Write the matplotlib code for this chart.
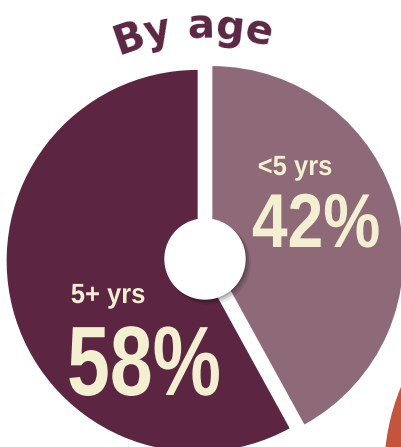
import matplotlib
matplotlib.use("Agg")
import numpy as np
import matplotlib.pyplot as plt
from matplotlib.patches import Circle
from matplotlib import patheffects as pe
from matplotlib.transforms import Affine2D

# =========================================================
# Data
# =========================================================

title = "By age"
groups = ["<5 yrs", "5+ yrs"]
shares = [42, 58]
colors = ["#8e6978", "#5c2643"]

cream = "#f3f0d2"
plum = "#5c2643"


class Squeeze(pe.AbstractPathEffect):
    """Narrow the glyphs around x0 (no condensed font installed)."""

    def __init__(self, x0, sx):
        super().__init__()
        self.x0 = x0
        self.sx = sx

    def draw_path(self, renderer, gc, tpath, affine, rgbFace=None):
        sq = Affine2D().translate(-self.x0, 0).scale(self.sx, 1).translate(self.x0, 0)
        renderer.draw_path(gc, tpath, affine + sq, rgbFace)


# =========================================================
# Figure (1 data unit = 1 pixel)
# =========================================================

W, H = 401, 447
fig = plt.figure(figsize=(W / 100, H / 100), dpi=100)
ax = fig.add_axes([0, 0, 1, 1])

cx, cy = 205, H - 259
radius = 191

# neighbouring chart peeking in at the bottom right
ax.add_patch(Circle((600, H - 470), 215, color="#c4543a", zorder=0))

wedges, _ = ax.pie(
    shares,
    colors=colors,
    startangle=90,
    counterclock=False,
    radius=radius,
    center=(cx, cy),
    explode=[7.6, 7.6],
    frame=True,
)
ax.set_xlim(0, W)
ax.set_ylim(0, H)
ax.set_aspect("equal")
ax.axis("off")

# centre hole with soft shadow
for k, a in [(6, 0.08), (4, 0.12), (2, 0.18)]:
    ax.add_patch(Circle((cx + k * 0.7, cy - k * 0.7), 40 + k * 0.3,
                        color="black", alpha=a, lw=0, zorder=3))
ax.add_patch(Circle((cx, cy), 40, color="white", zorder=4))

# =========================================================
# Labels
# =========================================================

lab_font = ["Liberation Sans", "DejaVu Sans"]


def label(x, y, s, size, sx):
    ax.text(x, H - y, s, color=cream, fontsize=size, fontweight="bold",
            family=lab_font, ha="center", va="baseline", zorder=5,
            path_effects=[Squeeze(x, sx)])


label(295, 175, groups[0], 20, 0.92)
label(316, 247, f"{shares[0]}%", 55, 0.84)
label(108, 303, groups[1], 20, 0.92)
label(144, 395, f"{shares[1]}%", 71, 0.78)

# =========================================================
# Curved title
# =========================================================

renderer = fig.canvas.get_renderer()
R = 221
tsize = 29
tracking = 0.0
widths = []
for ch in title:
    t = ax.text(0, 0, ch if ch != " " else "n", fontsize=tsize, fontweight="bold",
                family="DejaVu Sans")
    w = t.get_window_extent(renderer).width
    widths.append(w * 0.5 if ch == " " else w)
    t.remove()

total = sum(widths) + tracking * (len(title) - 1)
phi0 = np.degrees(np.arcsin(-12 / R))
s = -total / 2
for ch, w in zip(title, widths):
    mid = s + w / 2
    phi = phi0 + np.degrees(mid / R)
    px = cx + R * np.sin(np.radians(phi))
    py = cy + R * np.cos(np.radians(phi))
    if ch != " ":
        ax.text(px, py, ch, fontsize=tsize, fontweight="bold", family="DejaVu Sans",
                color=plum, rotation=-phi, rotation_mode="anchor",
                ha="center", va="baseline", zorder=5)
    s += w + tracking

fig.savefig("out.png", dpi=100)
